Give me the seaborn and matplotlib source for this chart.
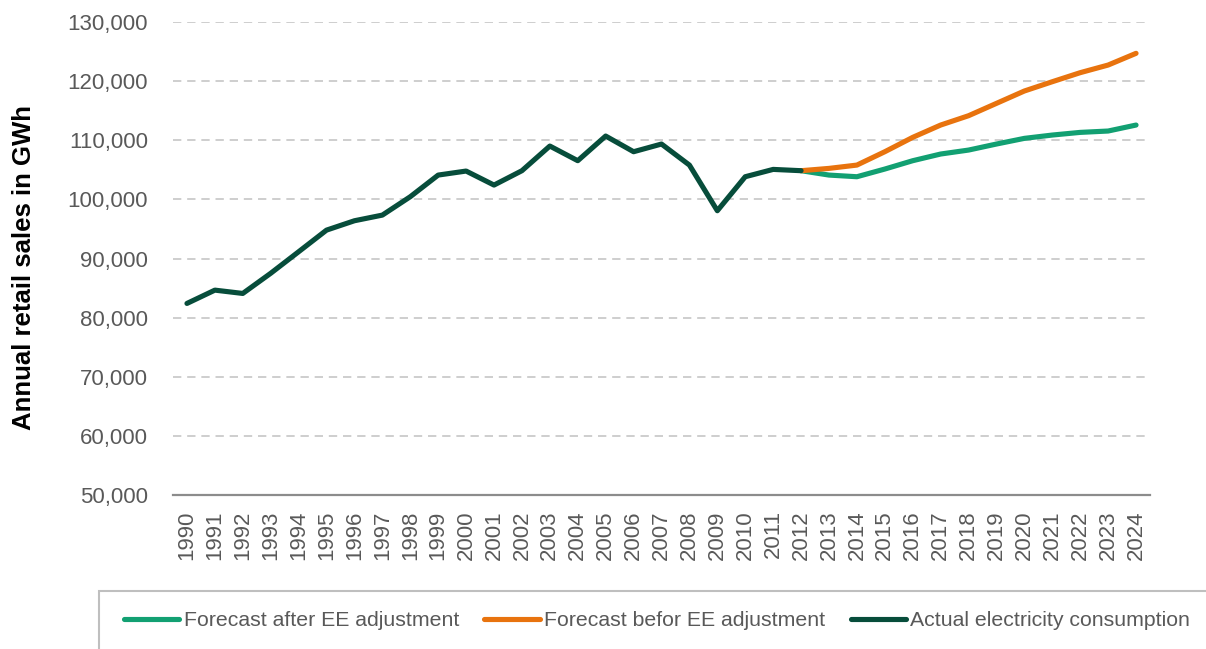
import numpy as np
import pandas as pd
import matplotlib
matplotlib.use("Agg")
import matplotlib.pyplot as plt
import matplotlib.ticker as mticker
from matplotlib.patches import Rectangle
import seaborn as sns

# actual consumption 1990-2012
actual_years = list(range(1990, 2013))
actual = [82400, 84650, 84090, 87500, 91140, 94800, 96385, 97340, 100450, 104110,
          104790, 102420, 104850, 109020, 106540, 110710, 108060, 109360, 105800,
          98080, 103830, 105070, 104850]

# forecasts 2012-2024
fc_years = list(range(2012, 2025))
fc_before = [104850, 105240, 105800, 108060, 110490, 112570, 114150, 116240,
             118330, 119900, 121430, 122720, 124700]
fc_after = [104850, 104110, 103830, 105130, 106540, 107670, 108340, 109360,
            110320, 110880, 111330, 111560, 112570]

lbl_after = "Forecast after EE adjustment"
lbl_before = "Forecast befor EE adjustment"
lbl_actual = "Actual electricity consumption"

sns.set_style("white")
plt.rcParams['font.family'] = ['Liberation Sans', 'DejaVu Sans']

df = pd.concat([
    pd.DataFrame({"year": fc_years, "gwh": fc_after, "series": lbl_after}),
    pd.DataFrame({"year": fc_years, "gwh": fc_before, "series": lbl_before}),
    pd.DataFrame({"year": actual_years, "gwh": actual, "series": lbl_actual}),
])
palette = {lbl_after: "#12A072", lbl_before: "#E8730E", lbl_actual: "#074D3B"}

fig = plt.figure(figsize=(12.06, 6.49), dpi=100)
ax = fig.add_axes([173 / 1206, 1 - 495 / 649, 977 / 1206, 473 / 649])

sns.lineplot(data=df, x="year", y="gwh", hue="series", palette=palette,
             linewidth=3.7, ax=ax, legend=False, sort=False)

ax.set_xlim(1989.5, 2024.5)
ax.set_ylim(50000, 130000)
ax.set_yticks(range(50000, 130001, 10000))
ax.yaxis.set_major_formatter(mticker.StrMethodFormatter("{x:,.0f}"))
ax.set_xticks(range(1990, 2025))
ax.set_xticklabels([str(y) for y in range(1990, 2025)], rotation=90)
ax.tick_params(axis="both", labelsize=16, colors="#595959", length=0)
ax.tick_params(axis="y", pad=18)
ax.tick_params(axis="x", pad=11)
ax.yaxis.grid(True, linestyle=(0, (5, 3.5)), color="#C6C6C6", linewidth=1.2)
ax.set_axisbelow(True)
for s in ["top", "right", "left"]:
    ax.spines[s].set_visible(False)
ax.spines["bottom"].set_color("#8C8C8C")
ax.spines["bottom"].set_linewidth(1.6)
ax.set_xlabel("")
ax.set_ylabel("")
fig.text(24 / 1206, 1 - 268 / 649, "Annual retail sales in GWh", rotation=90,
         ha="center", va="center", fontsize=18.5, fontweight="bold", color="black")

# legend box
fig.patches.append(Rectangle((99 / 1206, -0.01), 1.0, 1 - 591 / 649 + 0.01,
                             transform=fig.transFigure, fill=False,
                             edgecolor="#BFBFBF", linewidth=1.5))
handles = [plt.Line2D([], [], color=palette[k], linewidth=3.7)
           for k in [lbl_after, lbl_before, lbl_actual]]
fig.legend(handles, [lbl_after, lbl_before, lbl_actual], loc="center",
           bbox_to_anchor=(657 / 1206, 1 - 621 / 649), ncol=3, frameon=False,
           fontsize=15.3, handlelength=2.6, handletextpad=0.2, columnspacing=1.2,
           labelcolor="#595959")

fig.savefig("out.png", dpi=100)
